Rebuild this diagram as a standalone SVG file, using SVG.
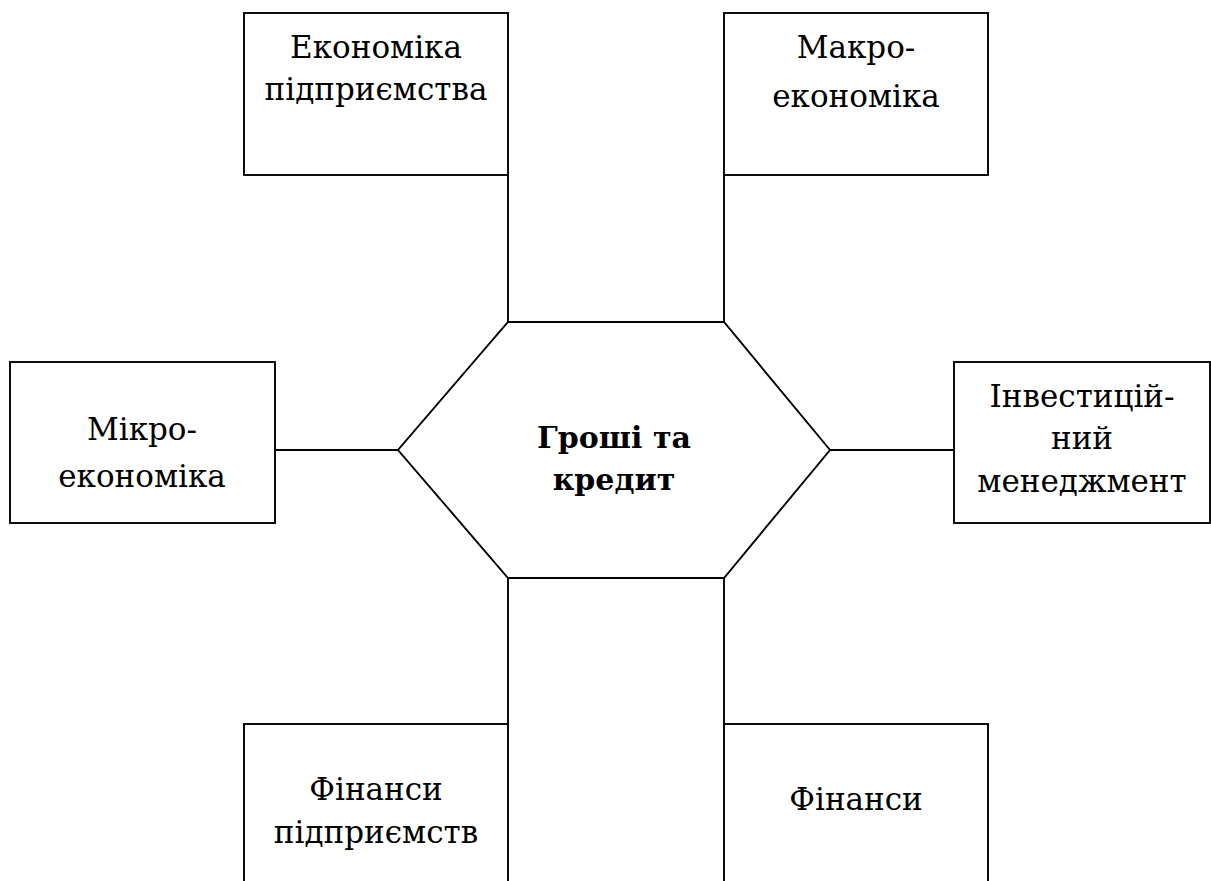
<svg xmlns="http://www.w3.org/2000/svg" width="1211" height="881" viewBox="0 0 1211 881">
<style>
.box{fill:#fff;stroke:#000;stroke-width:1.9}
.ln{fill:none;stroke:#000;stroke-width:1.9}
.t{font-family:"DejaVu Serif","Liberation Serif",serif;font-size:31px;fill:#000;text-anchor:middle}
.b{font-weight:bold;font-size:30px}
</style>
<rect width="1211" height="881" fill="#fff"/>
<g id="connectors">
<line class="ln" x1="508" y1="175" x2="508" y2="322"/>
<line class="ln" x1="724" y1="175" x2="724" y2="322"/>
<line class="ln" x1="275" y1="450" x2="398" y2="450"/>
<line class="ln" x1="830" y1="450" x2="954" y2="450"/>
<line class="ln" x1="508" y1="578" x2="508" y2="724"/>
<line class="ln" x1="724" y1="578" x2="724" y2="724"/>
</g>
<g id="center">
<polygon class="box" points="508,322 724,322 830,450 724,578 508,578 398,450"/>
<text class="t b" x="614" y="448">Гроші та</text>
<text class="t b" x="614" y="490">кредит</text>
</g>
<g id="ekonomika-pidpryiemstva">
<rect class="box" x="244" y="13" width="264" height="162"/>
<text class="t" x="376" y="58">Економіка</text>
<text class="t" x="376" y="100">підприємства</text>
</g>
<g id="makroekonomika">
<rect class="box" x="724" y="13" width="264" height="162"/>
<text class="t" x="856" y="58">Макро-</text>
<text class="t" x="856" y="107">економіка</text>
</g>
<g id="mikroekonomika">
<rect class="box" x="10" y="362" width="265" height="161"/>
<text class="t" x="142" y="440">Мікро-</text>
<text class="t" x="142" y="487">економіка</text>
</g>
<g id="investytsiinyi-menedzhment">
<rect class="box" x="954" y="362" width="256" height="161"/>
<text class="t" x="1082" y="407">Інвестицій-</text>
<text class="t" x="1082" y="449">ний</text>
<text class="t" x="1082" y="492">менеджмент</text>
</g>
<g id="finansy-pidpryiemstv">
<rect class="box" x="244" y="724" width="264" height="180"/>
<text class="t" x="376" y="800">Фінанси</text>
<text class="t" x="376" y="843">підприємств</text>
</g>
<g id="finansy">
<rect class="box" x="724" y="724" width="264" height="180"/>
<text class="t" x="856" y="810">Фінанси</text>
</g>
</svg>
